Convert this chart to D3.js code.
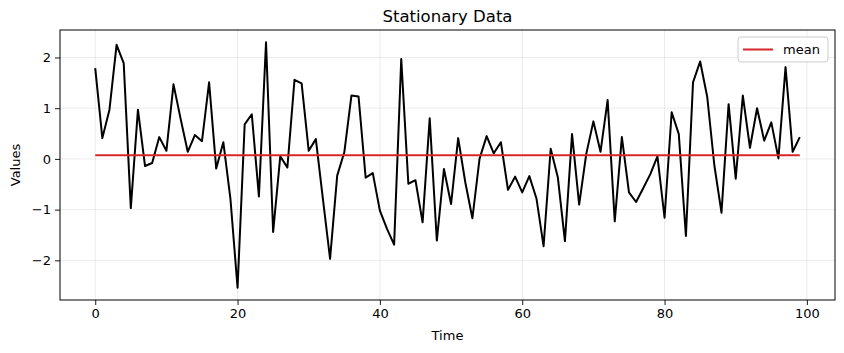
<!DOCTYPE html>
<html>
<head>
<meta charset="utf-8">
<script src="https://cdn.jsdelivr.net/npm/d3@7"></script>
<style>
  body { margin: 0; background: #fff; }
  svg { font-family: "DejaVu Sans", sans-serif; }
</style>
</head>
<body>
<svg id="chart" width="844" height="353"></svg>
<script>
// values, one per time step
const values = [
   1.79,  0.41,  0.97,  2.25,  1.89, -0.97,  0.97, -0.14, -0.08,  0.43,
   0.16,  1.47,  0.79,  0.14,  0.47,  0.35,  1.51, -0.19,  0.33, -0.79,
  -2.54,  0.68,  0.88, -0.74,  2.30, -1.44,  0.05, -0.17,  1.56,  1.49,
   0.16,  0.39, -0.80, -1.97, -0.33,  0.13,  1.25,  1.23, -0.37, -0.28,
  -1.02, -1.38, -1.69,  1.97, -0.49, -0.42, -1.25,  0.80, -1.61, -0.20,
  -0.89,  0.41, -0.46, -1.17,  0.00,  0.45,  0.11,  0.33, -0.61, -0.35,
  -0.66, -0.34, -0.78, -1.72,  0.20, -0.36, -1.62,  0.49, -0.90,  0.10,
   0.74,  0.14,  1.16, -1.23,  0.43, -0.66, -0.85, -0.58, -0.30,  0.05,
  -1.16,  0.92,  0.49, -1.52,  1.51,  1.92,  1.22, -0.13, -1.06,  1.08,
  -0.39,  1.25,  0.22,  1.00,  0.36,  0.72,  0.01,  1.81,  0.14,  0.43
];
const time = values.map((d, i) => i);
const meanValue = 0.07;
const xTicks = [0, 20, 40, 60, 80, 100];
const yTicks = [-2, -1, 0, 1, 2];

const svg = d3.select('#chart');
const margin = {left: 60, right: 9, top: 30, bottom: 53};
const W = 844, H = 353;

// matplotlib style 5% padding
const xPad = (d3.max(time) - d3.min(time)) * 0.05;
const [yMin, yMax] = d3.extent(values);
const yPad = (yMax - yMin) * 0.05;

const x = d3.scaleLinear()
    .domain([d3.min(time) - xPad, d3.max(time) + xPad])
    .range([margin.left, W - margin.right]);
const y = d3.scaleLinear()
    .domain([yMin - yPad, yMax + yPad])
    .range([H - margin.bottom, margin.top]);

// grid
const grid = svg.append('g').attr('stroke', '#000').attr('stroke-opacity', 0.1).attr('stroke-width', 0.8);
grid.selectAll('line.vx').data(xTicks).join('line')
    .attr('x1', d => x(d)).attr('x2', d => x(d))
    .attr('y1', margin.top).attr('y2', H - margin.bottom);
grid.selectAll('line.hy').data(yTicks).join('line')
    .attr('x1', margin.left).attr('x2', W - margin.right)
    .attr('y1', d => y(d)).attr('y2', d => y(d));

// series
const line = d3.line().x((d, i) => x(time[i])).y(d => y(d));
svg.append('path')
    .datum(values)
    .attr('d', line)
    .attr('fill', 'none')
    .attr('stroke', '#000')
    .attr('stroke-width', 2)
    .attr('stroke-linejoin', 'round');

// mean line
svg.append('line')
    .attr('x1', x(d3.min(time))).attr('x2', x(d3.max(time)))
    .attr('y1', y(meanValue)).attr('y2', y(meanValue))
    .attr('stroke', '#d62728')
    .attr('stroke-width', 2);

// axes
const xAxis = d3.axisBottom(x).tickValues(xTicks).tickSizeOuter(0).tickSize(5).tickPadding(4);
const yAxis = d3.axisLeft(y).tickValues(yTicks).tickSizeOuter(0).tickSize(5).tickPadding(4)
    .tickFormat(d => d < 0 ? '\u2212' + Math.abs(d) : d);

const gx = svg.append('g').attr('transform', `translate(0,${H - margin.bottom})`).call(xAxis);
const gy = svg.append('g').attr('transform', `translate(${margin.left},0)`).call(yAxis);
[gx, gy].forEach(g => {
    g.select('.domain').remove();
    g.selectAll('text').attr('font-size', 13).attr('fill', '#000').attr('font-family', '"DejaVu Sans", sans-serif');
    g.selectAll('line').attr('stroke', '#000').attr('stroke-width', 0.9);
});

// frame
svg.append('rect')
    .attr('x', margin.left).attr('y', margin.top)
    .attr('width', W - margin.left - margin.right)
    .attr('height', H - margin.top - margin.bottom)
    .attr('fill', 'none').attr('stroke', '#000').attr('stroke-width', 1);

// labels
svg.append('text')
    .attr('x', (margin.left + W - margin.right) / 2).attr('y', 22)
    .attr('text-anchor', 'middle').attr('font-size', 16.5)
    .text('Stationary Data');
svg.append('text')
    .attr('x', (margin.left + W - margin.right) / 2).attr('y', 340)
    .attr('text-anchor', 'middle').attr('font-size', 13)
    .text('Time');
svg.append('text')
    .attr('transform', `translate(20,${(margin.top + H - margin.bottom) / 2}) rotate(-90)`)
    .attr('text-anchor', 'middle').attr('font-size', 13)
    .text('Values');

// legend
const lg = svg.append('g').attr('transform', `translate(${W - margin.right - 97},${margin.top + 7})`);
lg.append('rect')
    .attr('width', 90).attr('height', 25).attr('rx', 3)
    .attr('fill', '#fff').attr('fill-opacity', 0.8)
    .attr('stroke', '#ccc').attr('stroke-width', 1);
lg.append('line')
    .attr('x1', 5).attr('x2', 35).attr('y1', 12.5).attr('y2', 12.5)
    .attr('stroke', '#d62728').attr('stroke-width', 2);
lg.append('text')
    .attr('x', 45).attr('y', 17).attr('font-size', 13)
    .text('mean');
</script>
</body>
</html>
